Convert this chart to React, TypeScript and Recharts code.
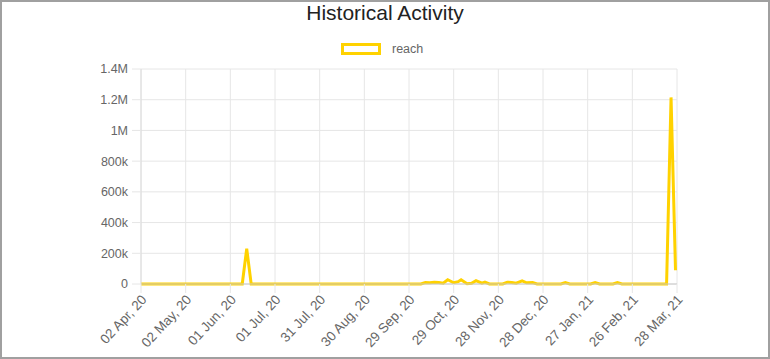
import React from 'react';
import { LineChart, Line, XAxis, YAxis, CartesianGrid } from 'recharts';

// days since 02 Apr 2020
const days = [0, 68, 71, 74, 188, 191, 194, 197, 200, 203, 206, 210, 213, 215, 219, 222, 225, 229, 231, 234, 243, 246, 249, 252, 256, 259, 263, 266, 282, 285, 288, 302, 305, 308, 317, 320, 323, 353, 356, 359];
const reach = [0, 0, 230000, 0, 0, 10000, 8000, 12000, 10000, 5000, 28000, 8000, 15000, 28000, 2000, 5000, 22000, 5000, 12000, 0, 0, 12000, 10000, 5000, 20000, 8000, 10000, 0, 0, 10000, 0, 0, 10000, 0, 0, 10000, 0, 0, 1215000, 90000];

const tickDays = [0, 30, 60, 90, 120, 150, 180, 210, 240, 270, 300, 330, 360];
const tickLabels = ['02 Apr, 20', '02 May, 20', '01 Jun, 20', '01 Jul, 20', '31 Jul, 20', '30 Aug, 20', '29 Sep, 20', '29 Oct, 20', '28 Nov, 20', '28 Dec, 20', '27 Jan, 21', '26 Feb, 21', '28 Mar, 21'];
const yTicks = [0, 200000, 400000, 600000, 800000, 1000000, 1200000, 1400000];

const data = days.map((d, i) => ({ day: d, reach: reach[i] }));

const FONT = '"Liberation Sans", Arial, Helvetica, sans-serif';
const LINE = '#FFD200';

const fmtY = (v: number) => (v === 0 ? '0' : v >= 1000000 ? `${v / 1000000}M` : `${v / 1000}k`);

const XTick = (props: any) => {
  const { x, y, payload } = props;
  const idx = tickDays.indexOf(payload.value);
  return (
    <g transform={`translate(${x + 3},${y + 1})`}>
      <text
        textAnchor="end"
        dy="0.35em"
        transform="rotate(-47)"
        fill="#666"
        fontSize={13.5}
        fontFamily={FONT}
      >
        {tickLabels[idx]}
      </text>
    </g>
  );
};

export default function App() {
  return (
    <div style={{ position: 'absolute', left: 0, top: 0, width: 770, height: 359, background: '#fff', fontFamily: FONT }}>
      <div style={{ position: 'absolute', left: 0, top: 0, width: 770, textAlign: 'center', fontSize: 21, color: '#222', lineHeight: '26px' }}>
        Historical Activity
      </div>
      <div style={{ position: 'absolute', left: 341, top: 43, width: 40, height: 12, boxSizing: 'border-box', border: `3px solid ${LINE}` }} />
      <div style={{ position: 'absolute', left: 392, top: 41, fontSize: 12.5, color: '#666', lineHeight: '16px' }}>reach</div>
      <div style={{ position: 'absolute', left: 0, top: 0 }}>
        <LineChart width={770} height={359} data={data} margin={{ top: 69, right: 93, bottom: 45, left: 81 }}>
          <CartesianGrid stroke="#e6e6e6" />
          <XAxis
            type="number"
            dataKey="day"
            domain={[0, 360]}
            ticks={tickDays}
            interval={0}
            height={30}
            tick={<XTick />}
            tickSize={9}
            tickMargin={3}
            tickLine={{ stroke: '#e6e6e6' }}
            axisLine={{ stroke: '#c8c8c8' }}
          />
          <YAxis
            type="number"
            domain={[0, 1400000]}
            ticks={yTicks}
            width={60}
            tickFormatter={fmtY}
            tick={{ fill: '#666', fontSize: 12.5, fontFamily: FONT }}
            tickSize={9}
            tickMargin={4}
            tickLine={{ stroke: '#e6e6e6' }}
            axisLine={{ stroke: '#dcdcdc' }}
          />
          <Line type="linear" dataKey="reach" stroke={LINE} strokeWidth={3} dot={false} isAnimationActive={false} />
        </LineChart>
      </div>
      <div style={{ position: 'absolute', left: 0, top: 0, width: 770, height: 359, boxSizing: 'border-box', border: '2px solid #a0a0a0', pointerEvents: 'none' }} />
    </div>
  );
}
